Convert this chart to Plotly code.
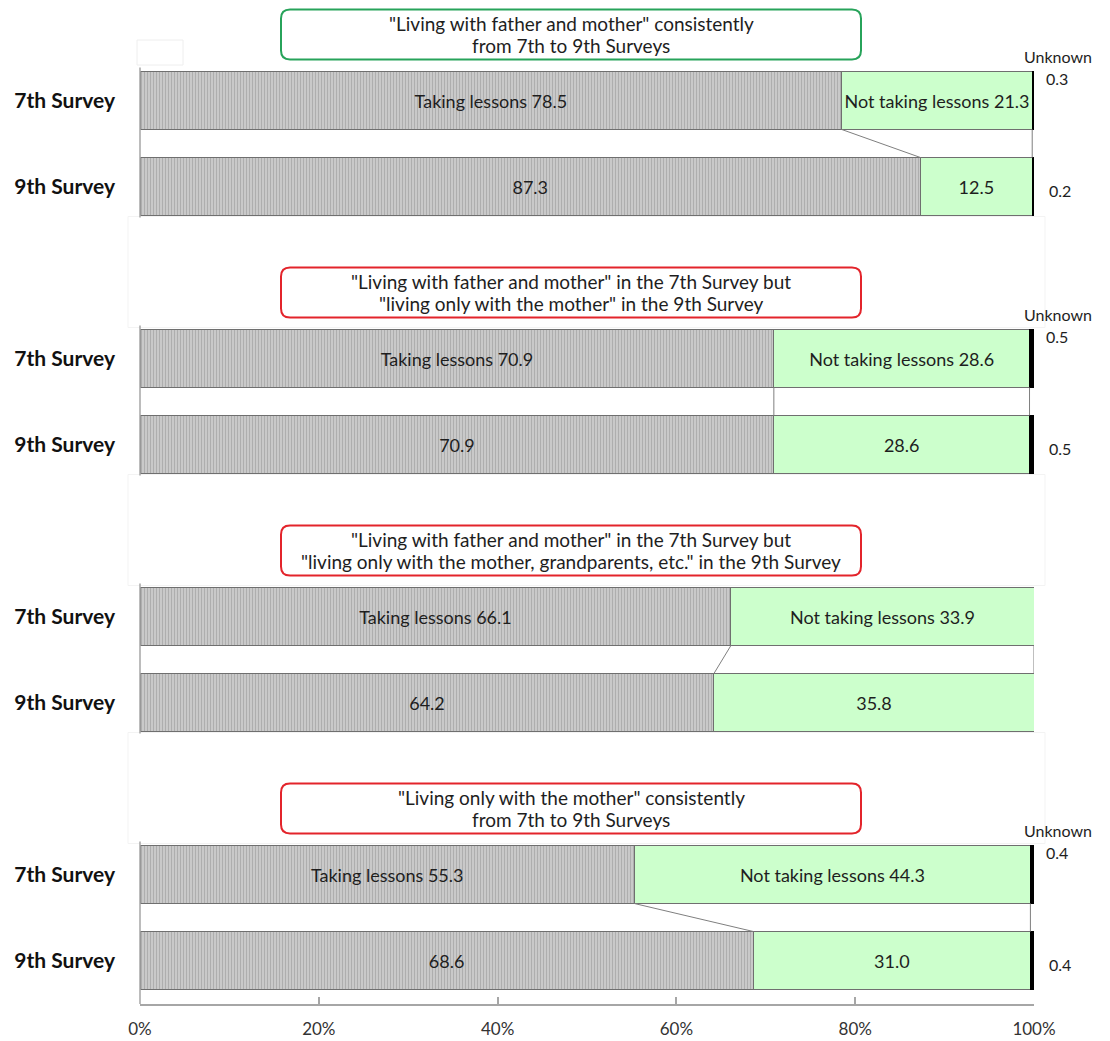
import plotly.graph_objects as go

# ---- data -------------------------------------------------------------
group_titles = [
    ['"Living with father and mother" consistently', 'from 7th to 9th Surveys'],
    ['"Living with father and mother" in the 7th Survey but', '"living only with the mother" in the 9th Survey'],
    ['"Living with father and mother" in the 7th Survey but', '"living only with the mother, grandparents, etc." in the 9th Survey'],
    ['"Living only with the mother" consistently', 'from 7th to 9th Surveys'],
]
title_colors = ["#27a35a", "#e3242b", "#e3242b", "#e3242b"]
survey_labels = ["7th Survey", "9th Survey"]

taking_7 = [78.5, 70.9, 66.1, 55.3]
taking_9 = [87.3, 70.9, 64.2, 68.6]
not_taking_7 = [21.3, 28.6, 33.9, 44.3]
not_taking_9 = [12.5, 28.6, 35.8, 31.0]
unknown_7 = [0.3, 0.5, 0.0, 0.4]
unknown_9 = [0.2, 0.5, 0.0, 0.4]

x_ticks = [0, 20, 40, 60, 80, 100]
x_tick_text = ["0%", "20%", "40%", "60%", "80%", "100%"]

# ---- layout geometry (pixel space) -----------------------------------
W, H = 1110, 1041
L, R, T, B = 140, 76, 0, 37
PW, PH = W - L - R, H - T - B
BAR_H = 58
GROUP_STEP = 258
FIRST_CENTER = 100.5
PAIR_STEP = 86

def px_x(px):
    return (px - L) / PW

def px_y(py):
    return 1 - (py - T) / PH

def rounded_rect(x0, y0, x1, y1, r):
    pts = [
        ("M", [(x0 + r, y0)]), ("L", [(x1 - r, y0)]), ("Q", [(x1, y0), (x1, y0 + r)]),
        ("L", [(x1, y1 - r)]), ("Q", [(x1, y1), (x1 - r, y1)]), ("L", [(x0 + r, y1)]),
        ("Q", [(x0, y1), (x0, y1 - r)]), ("L", [(x0, y0 + r)]), ("Q", [(x0, y0), (x0 + r, y0)]),
    ]
    s = ""
    for cmd, coords in pts:
        s += cmd + " " + " ".join(f"{px_x(a):.5f},{px_y(b):.5f}" for a, b in coords) + " "
    return s + "Z"

FONT = "Lato, 'Open Sans', sans-serif"
EDGE = "#6f6f6f"
BAR_FONT = 18

def label(px, py, text, size):
    return dict(xref="paper", yref="paper", x=px_x(px), y=px_y(py), text=text,
                showarrow=False, xanchor="center", yanchor="middle",
                font=dict(family=FONT, size=size, color="#1e1e1e"))

n = len(group_titles)
centers_7 = [FIRST_CENTER + GROUP_STEP * g for g in range(n)]
centers_9 = [c + PAIR_STEP for c in centers_7]

y_all, taking_all, not_all, unk_all = [], [], [], []
taking_txt, not_txt = [], []
for g in range(n):
    y_all += [centers_7[g], centers_9[g]]
    taking_all += [taking_7[g], taking_9[g]]
    not_all += [not_taking_7[g], not_taking_9[g]]
    unk_all += [unknown_7[g], unknown_9[g]]
    taking_txt += [f"Taking lessons {taking_7[g]:.1f}", f"{taking_9[g]:.1f}"]
    not_txt += [f"Not taking lessons {not_taking_7[g]:.1f}", f"{not_taking_9[g]:.1f}"]

fig = go.Figure()
fig.add_trace(go.Bar(
    y=y_all, x=taking_all, orientation="h", width=BAR_H,
    marker=dict(color="#c4c4c4",
                pattern=dict(shape="|", size=3, solidity=0.5, fgcolor="#8a8a8a", bgcolor="#d2d2d2"),
                line=dict(color=EDGE, width=1)),
    text=taking_txt, textposition="inside", insidetextanchor="middle", textangle=0,
    textfont=dict(family=FONT, size=BAR_FONT, color="#1e1e1e"),
    hoverinfo="skip", showlegend=False,
))
fig.add_trace(go.Bar(
    y=y_all, x=not_all, orientation="h", width=BAR_H,
    marker=dict(color="#ccffcc", line=dict(color=EDGE, width=1)),
    text=not_txt, textposition="inside", insidetextanchor="middle", textangle=0,
    textfont=dict(family=FONT, size=BAR_FONT, color="#1e1e1e"),
    hoverinfo="skip", showlegend=False,
))
fig.add_trace(go.Bar(
    y=y_all, x=unk_all, orientation="h", width=BAR_H,
    marker=dict(color="#000000", line=dict(color="#000000", width=[1 if v > 0 else 0 for v in unk_all])),
    hoverinfo="skip", showlegend=False,
))

shapes, annotations = [], []

for g in range(n):
    top7 = centers_7[g] - BAR_H / 2
    bot7 = centers_7[g] + BAR_H / 2
    top9 = centers_9[g] - BAR_H / 2
    bot9 = centers_9[g] + BAR_H / 2

    # faint white panel behind each block header
    if g > 0:
        shapes.append(dict(type="rect", xref="paper", yref="paper",
                           x0=px_x(128), x1=px_x(1045), y0=px_y(top7 - 113), y1=px_y(top7 - 2),
                           line=dict(color="#f3f3f3", width=1), fillcolor="white", layer="below"))

    # left axis segment for this block
    y_end = T + PH if g == n - 1 else bot9 + 2
    shapes.append(dict(type="line", xref="paper", yref="paper",
                       x0=0, x1=0, y0=px_y(top7 - 4), y1=px_y(y_end),
                       line=dict(color="#a6a6a6", width=1.5)))

    # connectors between the 7th and 9th bars at each segment boundary
    c7 = [taking_7[g], taking_7[g] + not_taking_7[g]]
    c9 = [taking_9[g], taking_9[g] + not_taking_9[g]]
    for a, b in zip(c7, c9):
        shapes.append(dict(type="line", xref="x", yref="y", x0=a, x1=b, y0=bot7, y1=top9,
                           line=dict(color="#7f7f7f", width=1)))

    # block title box
    box_y0 = top7 - 62
    box_y1 = top7 - 12
    box_mid = (box_y0 + box_y1) / 2
    shapes.append(dict(type="path", xref="paper", yref="paper",
                       path=rounded_rect(281, box_y0, 861, box_y1, 9),
                       line=dict(color=title_colors[g], width=2), fillcolor="white", layer="above"))
    annotations.append(label(571, box_mid - 11, group_titles[g][0], 19))
    annotations.append(label(571, box_mid + 11, group_titles[g][1], 19))

    # "Unknown" labels on the right
    if unknown_7[g] > 0 or unknown_9[g] > 0:
        annotations.append(label(1058, top7 - 15, "Unknown", 16))
        annotations.append(label(1057, top7 + 7, f"{unknown_7[g]:.1f}", 16))
        annotations.append(label(1060, centers_9[g] + 4, f"{unknown_9[g]:.1f}", 16))

# small faint box at the top-left corner
shapes.append(dict(type="rect", xref="paper", yref="paper",
                   x0=px_x(137), x1=px_x(183), y0=px_y(40), y1=px_y(65),
                   line=dict(color="#eeeeee", width=1), fillcolor="rgba(0,0,0,0)"))

y_tickvals, y_ticktext = [], []
for g in range(n):
    y_tickvals += [centers_7[g], centers_9[g]]
    y_ticktext += [f"<b>{s}</b>" for s in survey_labels]

fig.update_layout(
    width=W, height=H,
    margin=dict(l=L, r=R, t=T, b=B, pad=0),
    paper_bgcolor="white", plot_bgcolor="white",
    barmode="stack",
    uniformtext=dict(mode="show", minsize=BAR_FONT),
    xaxis=dict(range=[0, 100], tickvals=x_ticks, ticktext=x_tick_text,
               showline=True, linecolor="#a6a6a6", linewidth=1.5,
               ticks="inside", ticklen=7, tickcolor="#a6a6a6", tickwidth=1.5,
               ticklabelstandoff=9,
               showgrid=False, zeroline=False, fixedrange=True,
               tickfont=dict(family=FONT, size=17, color="#333333")),
    yaxis=dict(range=[T + PH, T], tickvals=y_tickvals, ticktext=y_ticktext,
               showline=False, showgrid=False, zeroline=False, ticks="",
               ticklabelstandoff=24, fixedrange=True,
               tickfont=dict(family=FONT, size=21, color="#111111")),
    shapes=shapes, annotations=annotations,
)

fig.write_html("out.html")
